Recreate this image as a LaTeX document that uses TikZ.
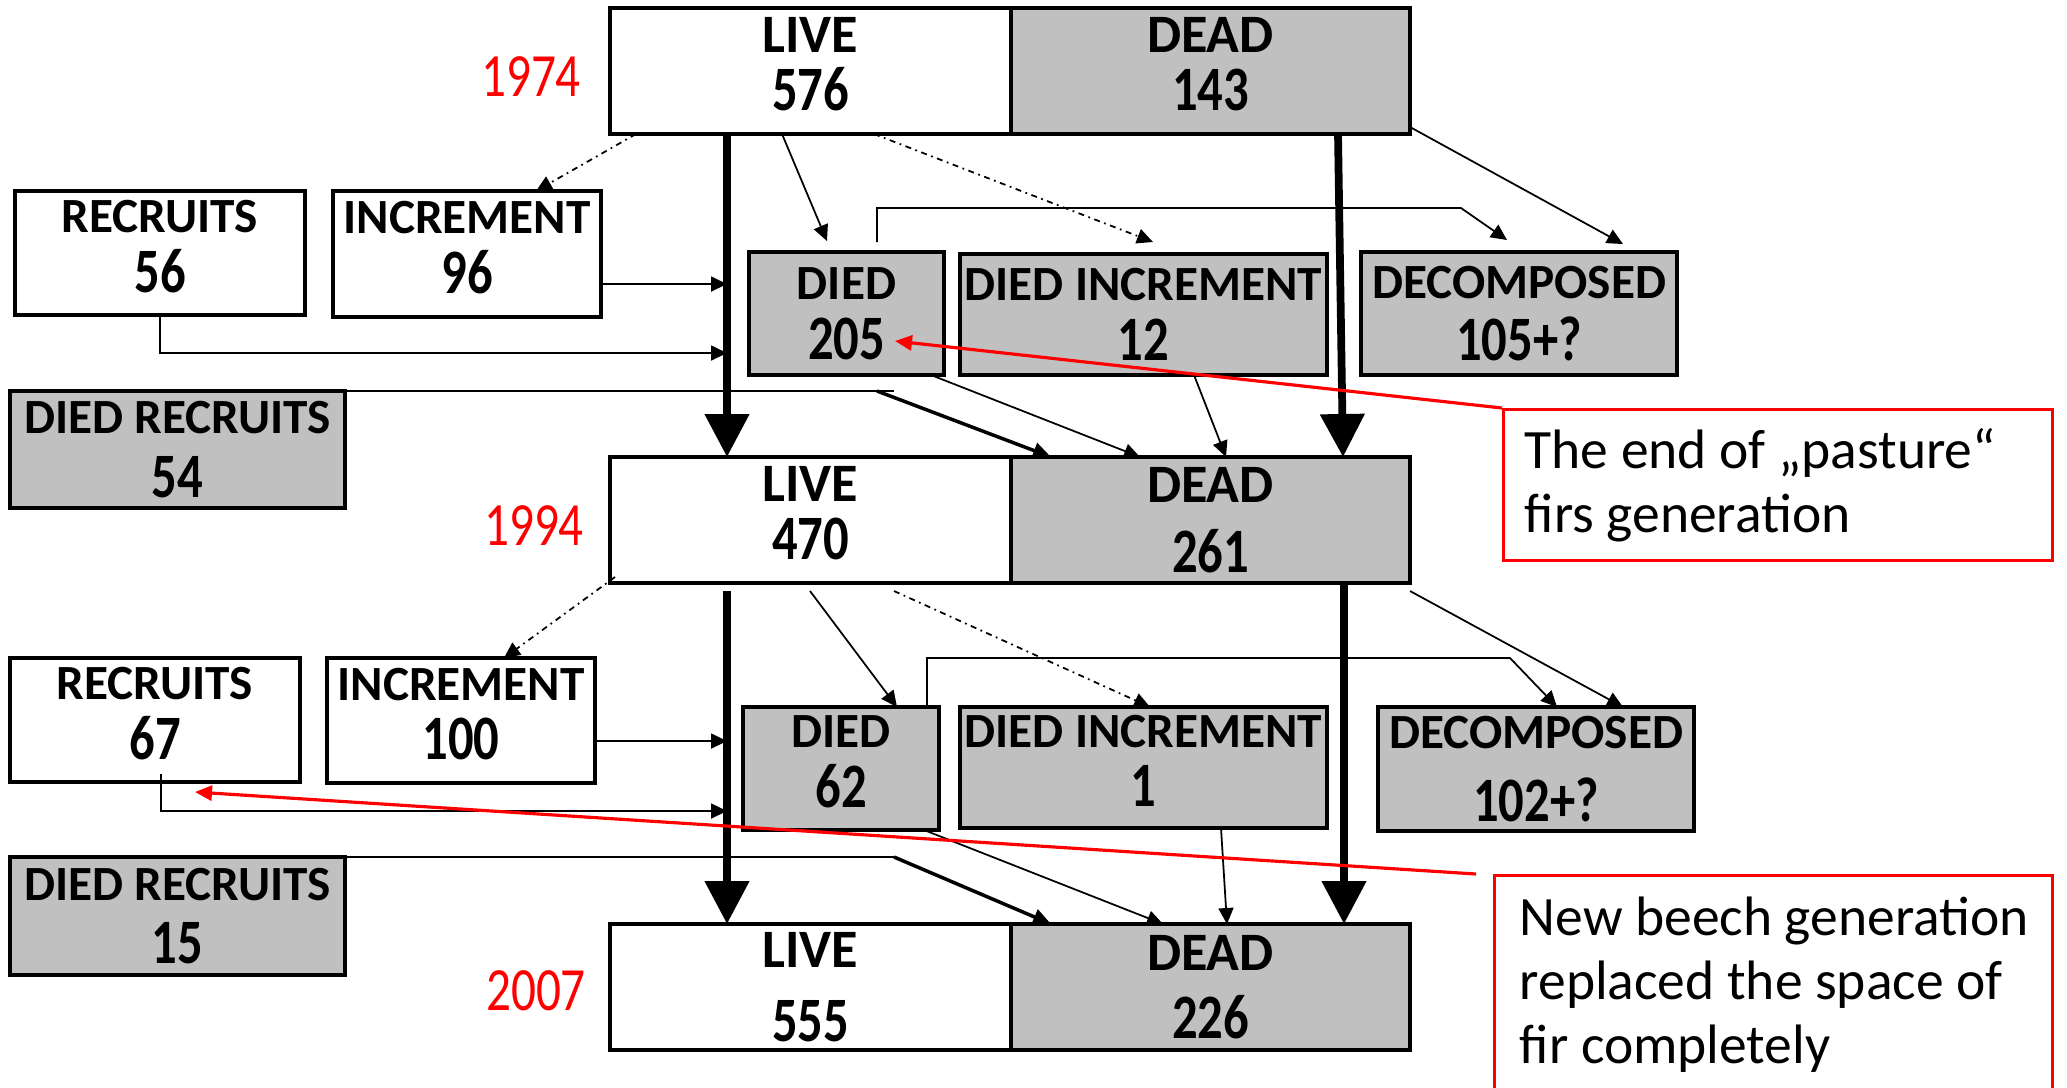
\documentclass[tikz,border=0pt]{standalone}
\usepackage{fontspec}
\setmainfont{Carlito}
\newfontfamily\numfam{Carlito}[FakeStretch=0.8]
\usetikzlibrary{arrows.meta, positioning}
\definecolor{boxgray}{RGB}{192,192,192}
\definecolor{notered}{RGB}{255,0,0}
\newcommand{\lblfont}{\bfseries\fontsize{14}{16}\selectfont}
\newcommand{\bigfont}{\bfseries\fontsize{15.4}{16}\selectfont}
\newcommand{\numfont}{\numfam\bfseries\fontsize{18}{16}\selectfont}
\newcommand{\boxtxt}[3][1pt]{{#2}\\[#1]{\numfont #3}}

\begin{document}
\begin{tikzpicture}[
    box/.style={draw, line width=1.1pt, inner sep=0pt, outer sep=0pt, align=center, anchor=north west, font=\lblfont},
    livebox/.style={box, minimum width=4.01cm, minimum height=1.26cm, font=\bigfont},
    deadbox/.style={livebox, fill=boxgray, minimum width=3.99cm},
    smallbox/.style={box, minimum height=1.24cm},
    greybox/.style={smallbox, fill=boxgray},
    lifted/.style={text depth=3.8pt},
    conn/.style={line width=0.5pt, -{Triangle[width=1.5mm,length=1.6mm]}},
    dashdot/.style={conn, dash pattern=on 1.7pt off 1.3pt on 0.5pt off 1.3pt},
    merge/.style={line width=1pt, -{Triangle[width=1.6mm,length=1.8mm]}},
    flow/.style={line width=2.2pt, -{Triangle[width=4.3mm,length=4.3mm]}},
    pointer/.style={notered, line width=0.9pt, -{Triangle[width=1.5mm,length=1.7mm]}},
    year/.style={text=notered, font=\numfam\fontsize{17.5}{18}\selectfont},
    note/.style={draw=notered, line width=0.9pt, inner sep=0pt, anchor=north west},
    notetext/.style={align=left, anchor=west, inner sep=0pt, font=\fontsize{15.8}{18.3}\selectfont}
]
    \useasboundingbox (0,0) rectangle (20.67,-10.87);

    % 1974
    \node[livebox, lifted] (live1) at (6.10,-0.08) {\boxtxt[0.5pt]{LIVE}{576}};
    \node[deadbox, lifted, right=0pt of live1] (dead1) {\boxtxt[0.5pt]{DEAD}{143}};
    \node[year] (y1974) at (5.31,-0.77) {1974};

    \node[smallbox, lifted, minimum width=2.90cm] (rec1) at (0.15,-1.91) {\boxtxt{RECRUITS}{56}};
    \node[smallbox, lifted, minimum width=2.68cm, minimum height=1.26cm] (inc1) at (3.33,-1.91) {\boxtxt{INCREMENT}{96}};
    \node[greybox, minimum width=1.95cm, minimum height=1.23cm] (died1) at (7.49,-2.52) {\boxtxt{DIED}{205}};
    \node[greybox, minimum width=3.67cm, minimum height=1.21cm] (dinc1) at (9.60,-2.54) {\boxtxt{DIED INCREMENT}{12}};
    \node[greybox, minimum width=3.16cm, minimum height=1.23cm] (dec1) at (13.61,-2.52) {\boxtxt[1.5pt]{DECOMPOSED}{105+?}};
    \node[greybox, minimum width=3.35cm, minimum height=1.17cm] (drec1) at (0.10,-3.91) {\boxtxt[2pt]{DIED RECRUITS}{54}};

    % 1994
    \node[livebox, lifted] (live2) at (6.10,-4.57) {\boxtxt[0.5pt]{LIVE}{470}};
    \node[deadbox, right=0pt of live2] (dead2) {\boxtxt[4pt]{DEAD}{261}};
    \node[year] (y1994) at (5.34,-5.26) {1994};

    \node[smallbox, lifted, minimum width=2.90cm] (rec2) at (0.10,-6.58) {\boxtxt{RECRUITS}{67}};
    \node[smallbox, lifted, minimum width=2.68cm, minimum height=1.25cm] (inc2) at (3.27,-6.58) {\boxtxt{INCREMENT}{100}};
    \node[greybox, lifted, minimum width=1.96cm, minimum height=1.23cm] (died2) at (7.43,-7.07) {\boxtxt{DIED}{62}};
    \node[greybox, lifted, minimum width=3.67cm, minimum height=1.21cm] (dinc2) at (9.60,-7.07) {\boxtxt{DIED INCREMENT}{1}};
    \node[greybox, minimum width=3.16cm] (dec2) at (13.78,-7.07) {\boxtxt[5pt]{DECOMPOSED}{102+?}};
    \node[greybox, minimum width=3.35cm, minimum height=1.18cm] (drec2) at (0.10,-8.57) {\boxtxt[2pt]{DIED RECRUITS}{15}};

    % 2007
    \node[livebox] (live3) at (6.10,-9.24) {\boxtxt[5pt]{LIVE}{555}};
    \node[deadbox, right=0pt of live3] (dead3) {\boxtxt[3.5pt]{DEAD}{226}};
    \node[year] (y2007) at (5.36,-9.91) {2007};

    % notes
    \node[note, minimum width=5.49cm, minimum height=1.51cm] (note1) at (15.02,-4.08) {};
    \node[notetext] (note1txt) at ([xshift=0.22cm]note1.west) {The end of „pasture“\\firs generation};
    \node[note, minimum width=5.58cm, minimum height=2.18cm] (note2) at (14.93,-8.74) {};
    \node[notetext] (note2txt) at ([xshift=0.26cm]note2.west) {New beech generation\\replaced the space of\\fir completely};

    \coordinate (stem1) at ([xshift=1.17cm]live1.south west);
    \coordinate (stem2) at ([xshift=1.17cm,yshift=-0.08cm]live2.south west);
    \coordinate (inc1a) at ([yshift=-0.30cm]inc1.east);
    \coordinate (rec1a) at ([yshift=-0.38cm]rec1.south);
    \coordinate (inc2a) at ([yshift=-0.205cm]inc2.east);
    \coordinate (rec2a) at ([xshift=0.06cm,yshift=0.08cm]rec2.south);
    \coordinate (rec2b) at ([xshift=0.06cm,yshift=-0.29cm]rec2.south);

    \draw[flow] (stem1) -- ([xshift=1.17cm]live2.north west);
    \draw[flow] (stem2) -- ([xshift=1.17cm]live3.north west);
    \draw[flow] ([xshift=3.27cm]dead1.south west) -- ([xshift=3.32cm]dead2.north west);
    \draw[flow] ([xshift=3.33cm]dead2.south west) -- ([xshift=3.33cm]dead3.north west);

    \draw[dashdot] ([xshift=0.26cm]live1.south west) -- ([xshift=2.03cm]inc1.north west);
    \draw[conn] ([xshift=1.72cm]live1.south west) -- ([xshift=0.78cm,yshift=0.11cm]died1.north west);
    \draw[dashdot] ([xshift=2.64cm]live1.south west) -- ([xshift=1.93cm,yshift=0.12cm]dinc1.north west);
    \draw[conn] ([xshift=1.28cm,yshift=0.10cm]died1.north west) -- ++(0,0.34) -- ++(5.84,0) -- ([xshift=1.46cm,yshift=0.12cm]dec1.north west);
    \draw[conn] ([yshift=0.07cm]dead1.south east) -- ([xshift=2.62cm,yshift=0.08cm]dec1.north west);
    \draw[conn] (inc1a) -- (inc1a -| stem1);
    \draw[conn] (rec1.south) -- (rec1a) -- (rec1a -| stem1);
    \draw[line width=0.5pt] (drec1.north east) -- ++(5.49,0);
    \draw[merge] ([xshift=5.32cm]drec1.north east) -- ([xshift=0.40cm]dead2.north west);
    \draw[conn] ([xshift=-0.13cm]died1.south east) -- ([xshift=1.29cm]dead2.north west);
    \draw[conn] ([xshift=2.34cm]dinc1.south west) -- ([xshift=2.15cm]dead2.north west);

    \draw[dashdot] ([xshift=0.05cm,yshift=0.06cm]live2.south west) -- ([xshift=1.77cm]inc2.north west);
    \draw[conn] ([xshift=2.00cm,yshift=-0.08cm]live2.south west) -- ([xshift=1.54cm]died2.north west);
    \draw[dashdot] ([xshift=2.84cm,yshift=-0.08cm]live2.south west) -- ([xshift=1.90cm]dinc2.north west);
    \draw[conn] ([xshift=1.84cm]died2.north west) -- ++(0,0.49) -- ++(5.83,0) -- ([xshift=1.79cm]dec2.north west);
    \draw[conn] ([yshift=-0.08cm]dead2.south east) -- ([xshift=2.45cm]dec2.north west);
    \draw[conn] (inc2a) -- (inc2a -| stem2);
    \draw[conn] (rec2a) -- (rec2b) -- (rec2b -| stem2);
    \draw[line width=0.5pt] (drec2.north east) -- ++(5.49,0);
    \draw[merge] ([xshift=5.49cm]drec2.north east) -- ([xshift=0.40cm]dead3.north west);
    \draw[conn] ([xshift=-0.15cm]died2.south east) -- ([xshift=1.52cm]dead3.north west);
    \draw[conn] ([xshift=2.61cm]dinc2.south west) -- ([xshift=2.16cm]dead3.north west);

    \draw[pointer] (note1.north west) -- ([xshift=-0.49cm,yshift=0.34cm]died1.south east);
    \draw[pointer] ([xshift=-0.17cm]note2.north west) -- ([xshift=1.85cm,yshift=-0.10cm]rec2.south west);
\end{tikzpicture}
\end{document}
